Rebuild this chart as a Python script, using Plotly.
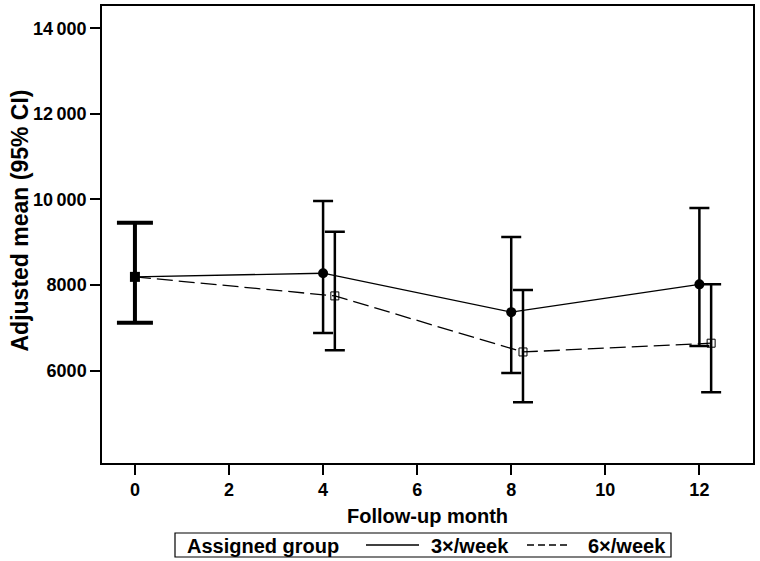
import plotly.graph_objects as go

# ---- data ----
months = [4, 8, 12]
offset_6x = 0.25
baseline_month = [0]
baseline_mean = [8190]
baseline_lo = [7120]
baseline_hi = [9455]

mean_3x = [8275, 7365, 8015]
lo_3x = [6880, 5945, 6575]
hi_3x = [9960, 9120, 9800]

mean_6x = [7745, 6435, 6640]
lo_6x = [6475, 5260, 5495]
hi_6x = [9245, 7885, 8015]

x_ticks = [0, 2, 4, 6, 8, 10, 12]
y_ticks = [6000, 8000, 10000, 12000, 14000]
y_ticktext = ["6000", "8000", "10\u2009000", "12\u2009000", "14\u2009000"]

legend_title = "Assigned group"
group_names = ["3×/week", "6×/week"]

FONT = "Liberation Sans, Arial, sans-serif"

# layout geometry (pixels)
W, H = 760, 561
ML, MR, MT, MB = 102, 7, 6, 98
PW, PH = W - ML - MR, H - MT - MB


def px(x):
    return (x - ML) / PW


def py(y):
    return (H - MB - y) / PH


x6 = [m + offset_6x for m in months]

fig = go.Figure()

fig.add_trace(go.Scatter(x=baseline_month + months, y=baseline_mean + mean_3x,
                         mode="lines", line=dict(color="black", width=1.3),
                         showlegend=False, hoverinfo="skip"))
fig.add_trace(go.Scatter(x=baseline_month + x6, y=baseline_mean + mean_6x,
                         mode="lines", line=dict(color="black", width=1.3, dash="16px,6px"),
                         showlegend=False, hoverinfo="skip"))

fig.add_trace(go.Scatter(
    x=months, y=mean_3x, mode="markers",
    marker=dict(symbol="circle", size=10, color="black"),
    error_y=dict(type="data", symmetric=False,
                 array=[h - m for h, m in zip(hi_3x, mean_3x)],
                 arrayminus=[m - l for m, l in zip(mean_3x, lo_3x)],
                 color="black", thickness=2.5, width=10),
    showlegend=False))
fig.add_trace(go.Scatter(
    x=x6, y=mean_6x, mode="markers",
    marker=dict(symbol="square-open", size=8, color="black", line=dict(width=1)),
    error_y=dict(type="data", symmetric=False,
                 array=[h - m for h, m in zip(hi_6x, mean_6x)],
                 arrayminus=[m - l for m, l in zip(mean_6x, lo_6x)],
                 color="black", thickness=2.5, width=10),
    showlegend=False))
fig.add_trace(go.Scatter(
    x=baseline_month, y=baseline_mean, mode="markers",
    marker=dict(symbol="square", size=10, color="black"),
    error_y=dict(type="data", symmetric=False,
                 array=[h - m for h, m in zip(baseline_hi, baseline_mean)],
                 arrayminus=[m - l for m, l in zip(baseline_mean, baseline_lo)],
                 color="black", thickness=4, width=18),
    showlegend=False))

# manual legend box
shapes = [
    dict(type="rect", xref="paper", yref="paper", x0=px(175), x1=px(671),
         y0=py(557), y1=py(533), line=dict(color="black", width=1.2), fillcolor="white"),
    dict(type="line", xref="paper", yref="paper", x0=px(366), x1=px(419),
         y0=py(545), y1=py(545), line=dict(color="black", width=1.3)),
    dict(type="line", xref="paper", yref="paper", x0=px(527), x1=px(569),
         y0=py(545), y1=py(545), line=dict(color="black", width=1.3, dash="7px,4px")),
]
leg_font = dict(size=20, weight="bold", family=FONT, color="black")
annotations = [
    dict(text="Adjusted mean (95% CI)", textangle=-90,
         xref="paper", yref="paper", x=px(19.5), y=py(221),
         xanchor="center", yanchor="middle", showarrow=False,
         font=dict(size=23, weight="bold", family=FONT)),
    dict(text=legend_title, xref="paper", yref="paper", x=px(185), y=py(545.5),
         xanchor="left", yanchor="middle", showarrow=False, font=leg_font),
    dict(text=group_names[0], xref="paper", yref="paper", x=px(429), y=py(545.5),
         xanchor="left", yanchor="middle", showarrow=False, font=leg_font),
    dict(text=group_names[1], xref="paper", yref="paper", x=px(586), y=py(545.5),
         xanchor="left", yanchor="middle", showarrow=False, font=leg_font),
]

fig.update_layout(
    width=W, height=H,
    margin=dict(l=ML, r=MR, t=MT, b=MB, autoexpand=False),
    plot_bgcolor="white", paper_bgcolor="white",
    font=dict(family=FONT, color="black", size=18, weight="bold"),
    showlegend=False,
    shapes=shapes,
    annotations=annotations,
)
fig.update_xaxes(range=[-0.7, 13.14], tickvals=x_ticks, ticks="outside", ticklen=10,
                 tickwidth=1.5, tickcolor="black", showline=True, linecolor="black",
                 linewidth=1.5, mirror=True, showgrid=False, zeroline=False,
                 automargin=False,
                 tickfont=dict(size=18, weight="bold"),
                 title=dict(text="Follow-up month", font=dict(size=20, weight="bold"), standoff=10))
fig.update_yaxes(range=[3840, 14520], tickvals=y_ticks, ticktext=y_ticktext,
                 ticks="outside", ticklen=10, tickwidth=1.5, tickcolor="black",
                 showline=True, linecolor="black", linewidth=1.5, mirror=True,
                 automargin=False,
                 showgrid=False, zeroline=False, tickfont=dict(size=18, weight="bold"))

fig.write_html("out.html", config={"displayModeBar": False},
               post_script="document.body.style.margin='0';document.body.style.overflow='hidden';")
